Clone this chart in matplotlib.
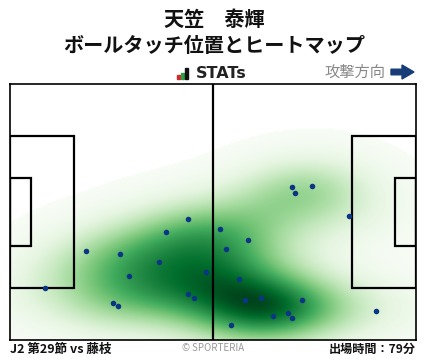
import matplotlib
matplotlib.use("Agg")
import matplotlib.pyplot as plt
from matplotlib.colors import PowerNorm
from matplotlib.patches import Polygon, Rectangle
import numpy as np

W, H = 428, 359
plt.rcParams['font.family'] = ['Noto Sans CJK JP', 'DejaVu Sans']

player = "天笠　泰輝"
subtitle = "ボールタッチ位置とヒートマップ"
match_label = "J2 第29節 vs 藤枝"
minutes_label = "出場時間：79分"

# touch positions, pitch metres (x: 0-105 attacking right, y: 0-68 from top)
touch_x = [46.1, 40.4, 19.7, 28.5, 38.6, 50.8, 30.9, 9.1, 46.1, 47.7, 26.7, 28.0,
           87.7, 54.4, 61.6, 55.9, 59.3, 60.9, 65.0, 75.6, 94.7, 68.1, 72.0, 73.0,
           57.2, 73.0, 73.6, 78.2]
touch_y = [35.9, 39.4, 44.4, 45.2, 47.4, 50.0, 51.1, 54.3, 55.9, 56.9, 58.3, 59.0,
           35.1, 38.6, 41.5, 43.9, 51.9, 57.5, 56.9, 57.5, 60.4, 61.7, 60.9, 62.2,
           64.1, 27.4, 29.0, 27.2]

fig = plt.figure(figsize=(W / 100, H / 100), dpi=100)
ax = fig.add_axes([10 / W, 1 - 340 / H, 406 / W, 256 / H])

# gaussian kde, full covariance
pts = np.vstack([touch_x, touch_y])
n = pts.shape[1]
factor = 1.05 * n ** (-1 / 6)
cov = np.cov(pts) * factor ** 2
inv = np.linalg.inv(cov)
gx, gy = np.meshgrid(np.linspace(0, 105, 300), np.linspace(0, 68, 200))
grid = np.vstack([gx.ravel(), gy.ravel()])
d = grid[:, :, None] - pts[:, None, :]
q = np.einsum('ikj,il,lkj->kj', d, inv, d)
dens = np.exp(-0.5 * q).sum(axis=1).reshape(gx.shape)
dens = dens / dens.max()

cmap = plt.get_cmap('Greens').copy()
cmap.set_under('white')
ax.imshow(dens, extent=(0, 105, 68, 0), origin='upper', cmap=cmap,
          norm=PowerNorm(gamma=1.25, vmin=0.025, vmax=1.0),
          interpolation='bilinear', aspect='auto', zorder=1)

# pitch lines
lw = 1.6
ax.plot([52.5, 52.5], [0, 68], color='black', lw=lw, zorder=2)
box_w, box_h = 16.5, 40.32
ga_w, ga_h = 5.5, 18.32
for x0, bw in [(0, box_w), (105 - box_w, box_w)]:
    ax.add_patch(Rectangle((x0, (68 - box_h) / 2), bw, box_h, fill=False, lw=lw, ec='black', zorder=2))
for x0 in [0, 105 - ga_w]:
    ax.add_patch(Rectangle((x0, (68 - ga_h) / 2), ga_w, ga_h, fill=False, lw=lw, ec='black', zorder=2))

ax.scatter(touch_x, touch_y, s=16, color='#0b3684', zorder=3, linewidths=0)

ax.set_xlim(0, 105)
ax.set_ylim(68, 0)
ax.set_xticks([])
ax.set_yticks([])
for s in ax.spines.values():
    s.set_linewidth(1.2)

def ftext(x, y, s, **kw):
    fig.text(x / W, 1 - y / H, s, **kw)

ftext(214, 20, player, ha='center', va='center', fontsize=14.5, fontweight='bold', color='#111111')
ftext(214, 46, subtitle, ha='center', va='center', fontsize=14.5, fontweight='bold', color='#111111')

# STATs logo
for bx, bh, c in [(177, 4, '#d9262b'), (181, 6, '#2e9e45'), (185, 11, '#111111')]:
    fig.add_artist(Rectangle((bx, H - 79), 3.2, bh, transform=None, color=c))
ftext(196, 73, "STATs", ha='left', va='center', fontsize=11.5, fontweight='bold',
      family='DejaVu Sans', color='#222222')

ftext(385, 72, "攻撃方向", ha='right', va='center', fontsize=11, color='#888888')
ay = H - 72
arrow = Polygon([(391, ay - 2.8), (402, ay - 2.8), (402, ay - 7), (414, ay), (402, ay + 7),
                 (402, ay + 2.8), (391, ay + 2.8)], closed=True, transform=None,
                color='#173c78')
fig.add_artist(arrow)

ftext(10, 349, match_label, ha='left', va='center', fontsize=9, fontweight='bold', color='#111111')
ftext(213, 348, "© SPORTERIA", ha='center', va='center', fontsize=7, color='#999999')
ftext(416, 349, minutes_label, ha='right', va='center', fontsize=8.7, fontweight='bold', color='#111111')

fig.savefig("out.png", dpi=100)
